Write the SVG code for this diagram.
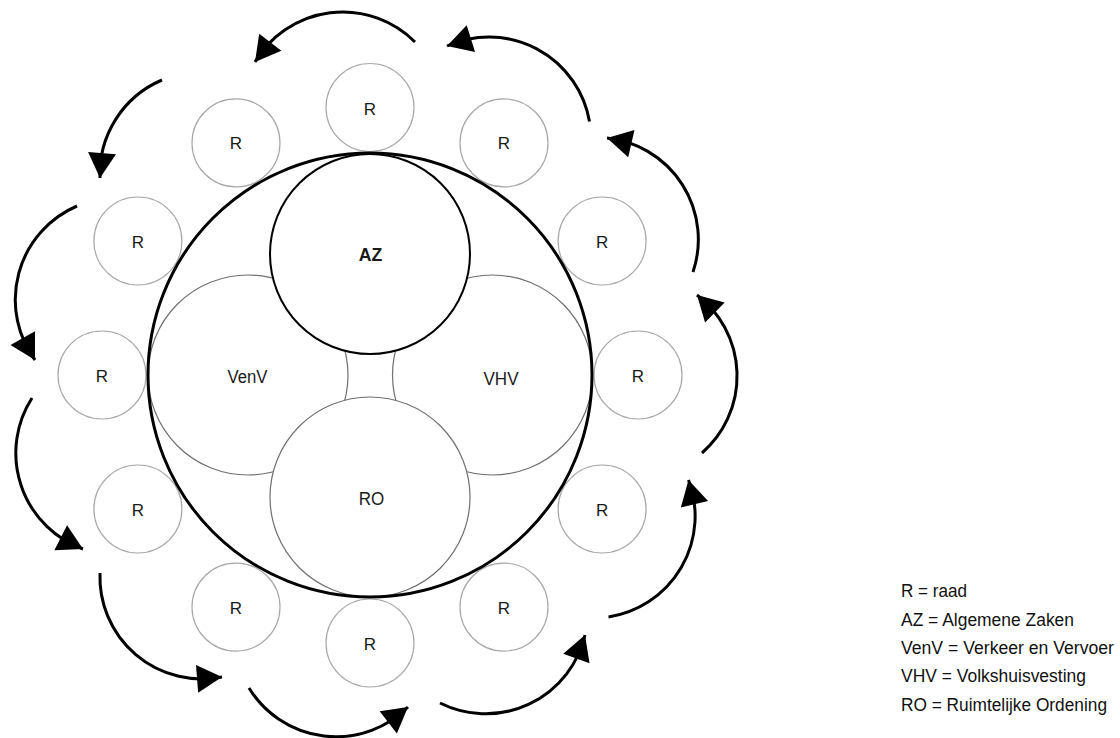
<svg xmlns="http://www.w3.org/2000/svg" width="1120" height="738" viewBox="0 0 1120 738">
<style>
.bg{fill:#fff}
.outer{fill:none;stroke:#000;stroke-width:3}
.dept{fill:#fff;stroke:#707070;stroke-width:1.2}
.az{fill:#fff;stroke:#000;stroke-width:2}
.raad{fill:#fff;stroke:#a8a8a8;stroke-width:1.2}
.lbl{font-family:"Liberation Sans",Arial,sans-serif;font-size:18px;fill:#1a1a1a;text-anchor:middle}
.azl{font-weight:bold}
.rl{font-family:"Liberation Sans",Arial,sans-serif;font-size:17px;fill:#1a1a1a;text-anchor:middle}
.leg{font-family:"Liberation Sans",Arial,sans-serif;font-size:17.5px;fill:#111}
.arc{fill:none;stroke:#000;stroke-width:3;marker-end:url(#ah)}
</style>
<defs>
<marker id="ah" markerUnits="userSpaceOnUse" markerWidth="60" markerHeight="60" viewBox="-30 -30 60 60" refX="0" refY="0" orient="auto" overflow="visible">
<path d="M0,0 L-25,-14 L-25,14 Z" transform="rotate(7)" fill="#000"/>
</marker>
</defs>
<rect class="bg" x="0" y="0" width="1120" height="738"/>

<g id="node-R-right"><circle class="raad" cx="638" cy="375" r="44"/><text class="rl" x="638" y="381.5">R</text></g>
<g id="node-R-30"><circle class="raad" cx="602.1" cy="509" r="44"/><text class="rl" x="602.1" y="515.5">R</text></g>
<g id="node-R-60"><circle class="raad" cx="504" cy="607.1" r="44"/><text class="rl" x="504" y="613.6">R</text></g>
<g id="node-R-bottom"><circle class="raad" cx="370" cy="643" r="44"/><text class="rl" x="370" y="649.5">R</text></g>
<g id="node-R-120"><circle class="raad" cx="236" cy="607.1" r="44"/><text class="rl" x="236" y="613.6">R</text></g>
<g id="node-R-150"><circle class="raad" cx="137.9" cy="509" r="44"/><text class="rl" x="137.9" y="515.5">R</text></g>
<g id="node-R-left"><circle class="raad" cx="102" cy="375" r="44"/><text class="rl" x="102" y="381.5">R</text></g>
<g id="node-R-210"><circle class="raad" cx="137.9" cy="241" r="44"/><text class="rl" x="137.9" y="247.5">R</text></g>
<g id="node-R-240"><circle class="raad" cx="236" cy="142.9" r="44"/><text class="rl" x="236" y="149.4">R</text></g>
<g id="node-R-top"><circle class="raad" cx="370" cy="107.5" r="44"/><text class="rl" x="370" y="115">R</text></g>
<g id="node-R-300"><circle class="raad" cx="504" cy="142.9" r="44"/><text class="rl" x="504" y="149.4">R</text></g>
<g id="node-R-330"><circle class="raad" cx="602.1" cy="241" r="44"/><text class="rl" x="602.1" y="247.5">R</text></g>

<g id="node-outer"><circle class="bg" cx="370" cy="375" r="222"/></g>

<g id="node-VenV"><circle class="dept" cx="248" cy="375" r="100"/><text class="lbl" x="247.5" y="382.5" textLength="40" lengthAdjust="spacingAndGlyphs">VenV</text></g>
<g id="node-VHV"><circle class="dept" cx="492.5" cy="375" r="100"/><text class="lbl" x="501" y="384.5" textLength="35" lengthAdjust="spacingAndGlyphs">VHV</text></g>
<g id="node-RO"><circle class="dept" cx="370" cy="497" r="100"/><text class="lbl" x="371.5" y="504.5" textLength="25.5" lengthAdjust="spacingAndGlyphs">RO</text></g>
<g id="node-AZ"><circle class="az" cx="370" cy="254" r="100"/><text class="lbl azl" x="370.5" y="260.5" textLength="23.5" lengthAdjust="spacingAndGlyphs">AZ</text></g>

<g id="outer-ring"><circle class="outer" cx="370" cy="375" r="222"/></g>

<g id="connectors">
<path class="arc" d="M415,42 A102,102 0 0 0 255,62"/>
<path class="arc" d="M589.5,121.5 A102,102 0 0 0 447,46"/>
<path class="arc" d="M693,272 A102,102 0 0 0 607,138"/>
<path class="arc" d="M702,453 A102,102 0 0 0 697,295"/>
<path class="arc" d="M608.5,617 A102,102 0 0 0 688.5,480"/>
<path class="arc" d="M440,703 A102,102 0 0 0 585,635"/>
<path class="arc" d="M249,688 A102,102 0 0 0 408,707"/>
<path class="arc" d="M100,573 A102,102 0 0 0 222,677"/>
<path class="arc" d="M32,398 A102,102 0 0 0 83,549"/>
<path class="arc" d="M77,206 A102,102 0 0 0 35,360"/>
<path class="arc" d="M162,80 A102,102 0 0 0 100,178"/>
</g>

<g id="legend">
<text class="leg" x="901" y="597" textLength="66" lengthAdjust="spacingAndGlyphs">R = raad</text>
<text class="leg" x="901" y="626" textLength="173" lengthAdjust="spacingAndGlyphs">AZ = Algemene Zaken</text>
<text class="leg" x="901" y="654" textLength="213" lengthAdjust="spacingAndGlyphs">VenV = Verkeer en Vervoer</text>
<text class="leg" x="901" y="682" textLength="185" lengthAdjust="spacingAndGlyphs">VHV = Volkshuisvesting</text>
<text class="leg" x="901" y="711" textLength="206" lengthAdjust="spacingAndGlyphs">RO = Ruimtelijke Ordening</text>
</g>
</svg>
